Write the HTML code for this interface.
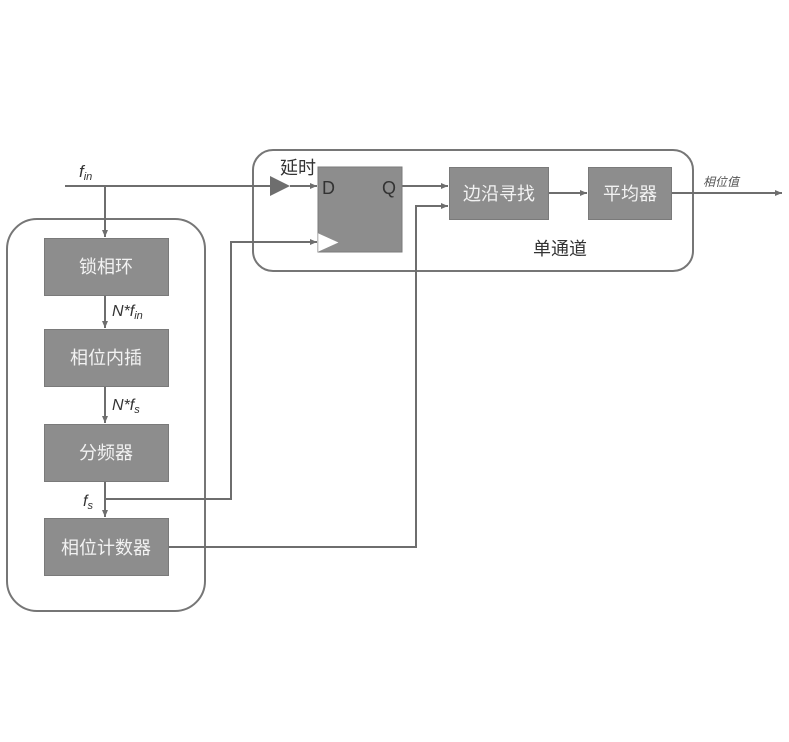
<!DOCTYPE html>
<html>
<head>
<meta charset="utf-8">
<style>
html,body{margin:0;padding:0;background:#fff;}
svg{display:block;}
.t{font-family:"Liberation Sans","Noto Sans CJK SC",sans-serif;}
</style>
</head>
<body>
<svg width="789" height="742" viewBox="0 0 789 742" xmlns="http://www.w3.org/2000/svg">
<defs>
<marker id="ar" markerWidth="8" markerHeight="8" refX="7" refY="4" orient="auto" markerUnits="userSpaceOnUse">
<path d="M0,1 L7,4 L0,7 Z" fill="#6e6e6e"/>
</marker>
</defs>

<!-- rounded containers -->
<rect x="7" y="219" width="198" height="392" rx="30" ry="30" fill="none" stroke="#767676" stroke-width="2"/>
<rect x="253" y="150" width="440" height="121" rx="20" ry="20" fill="none" stroke="#767676" stroke-width="2"/>

<!-- connectors -->
<g stroke="#6e6e6e" stroke-width="2" fill="none">
<line x1="65" y1="186" x2="270" y2="186"/>
<line x1="290" y1="186" x2="317" y2="186" marker-end="url(#ar)"/>
<line x1="105" y1="186" x2="105" y2="237" marker-end="url(#ar)"/>
<line x1="105" y1="296" x2="105" y2="328" marker-end="url(#ar)"/>
<line x1="105" y1="386" x2="105" y2="423" marker-end="url(#ar)"/>
<line x1="105" y1="482" x2="105" y2="517" marker-end="url(#ar)"/>
<polyline points="105,499 231,499 231,242 317,242" marker-end="url(#ar)"/>
<polyline points="169,547 416,547 416,206 448,206" marker-end="url(#ar)"/>
<line x1="402" y1="186" x2="448" y2="186" marker-end="url(#ar)"/>
<line x1="548" y1="193" x2="587" y2="193" marker-end="url(#ar)"/>
<line x1="671" y1="193" x2="782" y2="193" marker-end="url(#ar)"/>
</g>

<!-- delay triangle -->
<path d="M270,176 L290,186 L270,196 Z" fill="#6e6e6e"/>

<!-- DFF -->
<rect x="318" y="167" width="84" height="85" fill="#8d8d8d" stroke="#7a7a7a" stroke-width="1"/>
<path d="M318,233 L339,242.5 L318,252 Z" fill="#fff" stroke="#8d8d8d" stroke-width="0.5"/>
<text x="322" y="194" class="t" font-size="18" fill="#333">D</text>
<text x="382" y="194" class="t" font-size="18" fill="#333">Q</text>

<!-- boxes -->
<g fill="#8d8d8d" stroke="#7a7a7a" stroke-width="1">
<rect x="44.5" y="238.5" width="124" height="57"/>
<rect x="44.5" y="329.5" width="124" height="57"/>
<rect x="44.5" y="424.5" width="124" height="57"/>
<rect x="44.5" y="518.5" width="124" height="57"/>
<rect x="449.5" y="167.5" width="99" height="52"/>
<rect x="588.5" y="167.5" width="83" height="52"/>
</g>

<g class="t" font-size="18" fill="#f2f2f2" text-anchor="middle">
<text x="106" y="273">锁相环</text>
<text x="106" y="364">相位内插</text>
<text x="106" y="459">分频器</text>
<text x="106" y="554">相位计数器</text>
<text x="499" y="200">边沿寻找</text>
<text x="630" y="200">平均器</text>
</g>

<g class="t" fill="#333">
<text x="280" y="174" font-size="18">延时</text>
<text x="533" y="255" font-size="18">单通道</text>
<text x="703" y="186" font-size="12" font-style="italic" fill="#555">相位值</text>
<text x="79" y="177" font-size="17" font-style="italic">f<tspan font-size="11" dy="3">in</tspan></text>
<text x="112" y="316" font-size="16" font-style="italic">N*f<tspan font-size="11" dy="3">in</tspan></text>
<text x="112" y="410" font-size="16" font-style="italic">N*f<tspan font-size="11" dy="3">s</tspan></text>
<text x="83" y="506" font-size="16" font-style="italic">f<tspan font-size="11" dy="3">s</tspan></text>
</g>
</svg>
</body>
</html>
